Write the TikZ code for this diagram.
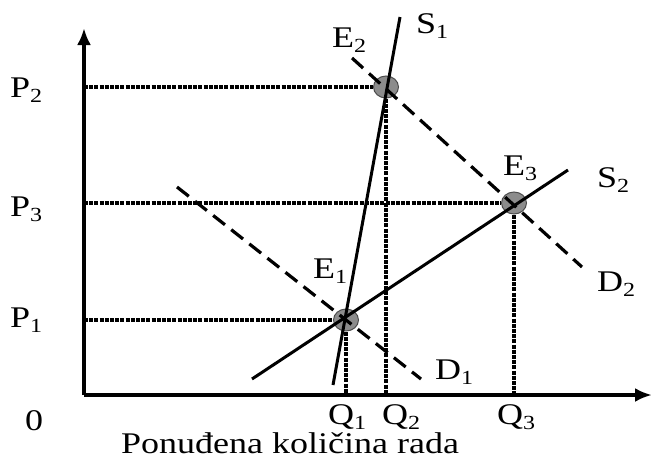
\documentclass[tikz,border=0pt]{standalone}
\usepackage{fontspec}
\setmainfont{Liberation Serif}[FakeStretch=1.2]
\usetikzlibrary{arrows.meta}
\usetikzlibrary{shapes.geometric}

\newcommand{\lblfont}{\fontsize{30}{34}\selectfont}
\newcommand{\lsub}[2]{#1\raisebox{-5pt}{\fontsize{20}{22}\selectfont #2}}

\begin{document}
\begin{tikzpicture}[x=1pt,y=-1pt,
  axis/.style={-{Latex[length=17pt,width=14pt]}, line width=4pt},
  curve/.style={line width=3pt},
  demand/.style={line width=3.2pt, dash pattern=on 15pt off 8pt},
  guide/.style={line width=3.5pt, dash pattern=on 4pt off 1.2pt},
  eq/.style={ellipse, minimum width=25pt, minimum height=22pt, inner sep=0pt,
    fill=gray!90, draw=gray!60!black, line width=1pt},
  lbl/.style={inner sep=0pt, anchor=base west, font=\lblfont}]

\useasboundingbox (0,0) rectangle (654,459);

\coordinate (O) at (84,395);
\coordinate (Xend) at (652,395);
\coordinate (Yend) at (84,28);

% equilibrium points
\node[eq] (E1) at (346,320) {};
\node[eq] (E2) at (386,87) {};
\node[eq] (E3) at (514,203) {};

% supply and demand
\coordinate (S1a) at (333,385);
\coordinate (S1b) at (400,17);
\coordinate (S2a) at (252,379);
\coordinate (S2b) at (568,170);
\coordinate (D1a) at (177,187);
\coordinate (D1b) at (421,379);
\coordinate (D2a) at (352,58);
\coordinate (D2b) at (582,267);

\draw[guide] (O |- E2) -- (E2);
\draw[guide] (O |- E3) -- (E3);
\draw[guide] (O |- E1) -- (E1);
\draw[guide] (E1) -- (E1 |- O);
\draw[guide] (E2) -- (E2 |- O);
\draw[guide] (E3) -- (E3 |- O);

\draw[demand] (D1a) -- (D1b);
\draw[demand] (D2a) -- (D2b);
\draw[curve] (S1a) -- (S1b);
\draw[curve] (S2a) -- (S2b);

\draw[axis] (O) -- (Yend);
\draw[axis] (O) -- (Xend);

% labels
\node[lbl] (labP2) at (10,97) {\lsub{P}{2}};
\node[lbl] (labP3) at (10,216) {\lsub{P}{3}};
\node[lbl] (labP1) at (10,327) {\lsub{P}{1}};
\node[lbl] (labO) at (25,430) {0};
\node[lbl] (labQ1) at (328,424) {\lsub{Q}{1}};
\node[lbl] (labQ2) at (382,424) {\lsub{Q}{2}};
\node[lbl] (labQ3) at (497,424) {\lsub{Q}{3}};
\node[lbl] (labE1) at (313,278) {\lsub{E}{1}};
\node[lbl] (labE2) at (332,47) {\lsub{E}{2}};
\node[lbl] (labE3) at (503,175) {\lsub{E}{3}};
\node[lbl] (labS1) at (416,33) {\lsub{S}{1}};
\node[lbl] (labS2) at (597,187) {\lsub{S}{2}};
\node[lbl] (labD1) at (435,379) {\lsub{D}{1}};
\node[lbl] (labD2) at (597,291) {\lsub{D}{2}};
\node[lbl] (labX) at (121,453) {Ponuđena količina rada};

\end{tikzpicture}
\end{document}
